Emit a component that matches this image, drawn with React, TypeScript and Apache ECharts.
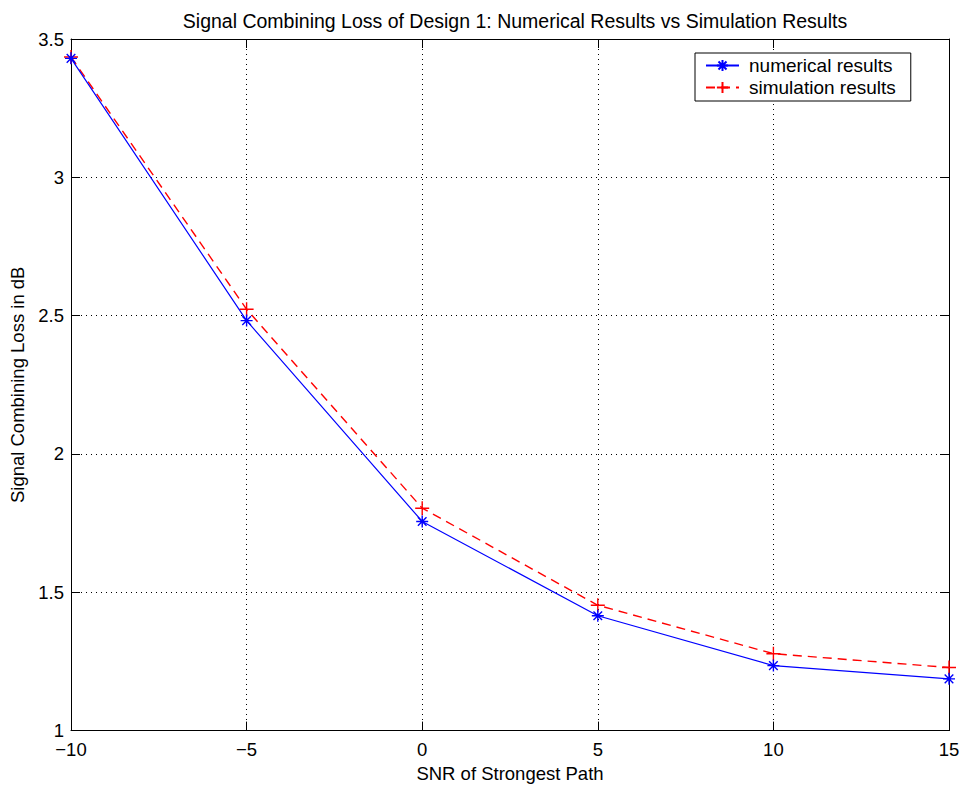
import React, { useEffect, useRef } from "react";
import * as echarts from "echarts";

const snr = [-10, -5, 0, 5, 10, 15];
const numericalResults = [3.43, 2.482, 1.756, 1.415, 1.235, 1.187];
const simulationResults = [3.435, 2.523, 1.804, 1.453, 1.278, 1.228];
const titleText = "Signal Combining Loss of Design 1: Numerical Results vs Simulation Results";
const xName = "SNR of Strongest Path";
const yName = "Signal Combining Loss in dB";
const seriesNames = ["numerical results", "simulation results"];

const FONT = "'Liberation Sans', Arial, Helvetica, sans-serif";
const ASTERISK = "path://M0,-6L0,6M-6,0L6,0M-4.3,-4.3L4.3,4.3M-4.3,4.3L4.3,-4.3";
const PLUS = "path://M0,-7L0,7M-7,0L7,0";

const fmt = (v: number) => String(v).replace("-", "\u2212");

export default function App() {
  const ref = useRef<HTMLDivElement>(null);
  useEffect(() => {
    document.body.style.margin = "0";
    const chart = echarts.init(ref.current!, undefined, { renderer: "svg" });
    const axisLine = { show: true, onZero: false, lineStyle: { color: "#000", width: 1 } };
    const axisTick = { show: true, inside: true, length: 9, lineStyle: { color: "#000", width: 1 } };
    chart.setOption({
      animation: false,
      backgroundColor: "#fff",
      textStyle: { fontFamily: FONT },
      title: {
        text: titleText,
        left: 510,
        top: 6,
        textAlign: "center",
        textStyle: { fontFamily: FONT, fontSize: 19.5, fontWeight: "normal", color: "#000" },
      },
      grid: { left: 71, right: 16, top: 39, bottom: 57, containLabel: false },
      legend: {
        orient: "vertical",
        left: 695,
        top: 53,
        padding: [3, 15, 4, 10],
        itemGap: 3,
        itemWidth: 33,
        itemHeight: 14,
        backgroundColor: "#fff",
        borderColor: "#000",
        borderWidth: 1,
        borderRadius: 0,
        textStyle: { fontFamily: FONT, fontSize: 19, color: "#000", padding: [0, 0, 0, 5] },
        data: seriesNames,
      },
      xAxis: [
        {
          type: "value",
          min: -10,
          max: 15,
          interval: 5,
          name: xName,
          nameLocation: "middle",
          nameGap: 32,
          nameTextStyle: { fontFamily: FONT, fontSize: 18.5, color: "#000" },
          axisLine,
          axisTick,
          axisLabel: { color: "#000", fontSize: 18.5, lineHeight: 16, fontFamily: FONT, margin: 11, formatter: fmt },
          splitLine: { show: true, lineStyle: { color: "#000", width: 1, type: [1, 4] } },
        },
        {
          type: "value",
          position: "top",
          min: -10,
          max: 15,
          interval: 5,
          axisLine,
          axisTick,
          axisLabel: { show: false },
          splitLine: { show: false },
        },
      ],
      yAxis: [
        {
          type: "value",
          min: 1,
          max: 3.5,
          interval: 0.5,
          name: yName,
          nameLocation: "middle",
          nameGap: 36,
          nameTextStyle: { fontFamily: FONT, fontSize: 18.5, color: "#000" },
          axisLine,
          axisTick,
          axisLabel: { color: "#000", fontSize: 18.5, lineHeight: 16, fontFamily: FONT, margin: 7, formatter: fmt },
          splitLine: { show: true, lineStyle: { color: "#000", width: 1, type: [1, 4] } },
        },
        {
          type: "value",
          position: "right",
          min: 1,
          max: 3.5,
          interval: 0.5,
          axisLine,
          axisTick,
          axisLabel: { show: false },
          splitLine: { show: false },
        },
      ],
      series: [
        {
          name: seriesNames[0],
          type: "line",
          data: snr.map((x, i) => [x, numericalResults[i]]),
          symbol: ASTERISK,
          symbolSize: 12,
          showAllSymbol: true,
          clip: false,
          z: 3,
          lineStyle: { color: "#0000ff", width: 1.2, type: "solid" },
          itemStyle: { color: "#0000ff", borderColor: "#0000ff", borderWidth: 1.4 },
        },
        {
          name: seriesNames[1],
          type: "line",
          data: snr.map((x, i) => [x, simulationResults[i]]),
          symbol: PLUS,
          symbolSize: 14,
          showAllSymbol: true,
          clip: false,
          z: 2,
          lineStyle: { color: "#ff0000", width: 1.4, type: [9, 6] },
          itemStyle: { color: "#ff0000", borderColor: "#ff0000", borderWidth: 1.4 },
        },
      ],
    });
    return () => chart.dispose();
  }, []);
  return (
    <div
      ref={ref}
      style={{ position: "absolute", left: 0, top: 0, width: 965, height: 788 }}
    />
  );
}
